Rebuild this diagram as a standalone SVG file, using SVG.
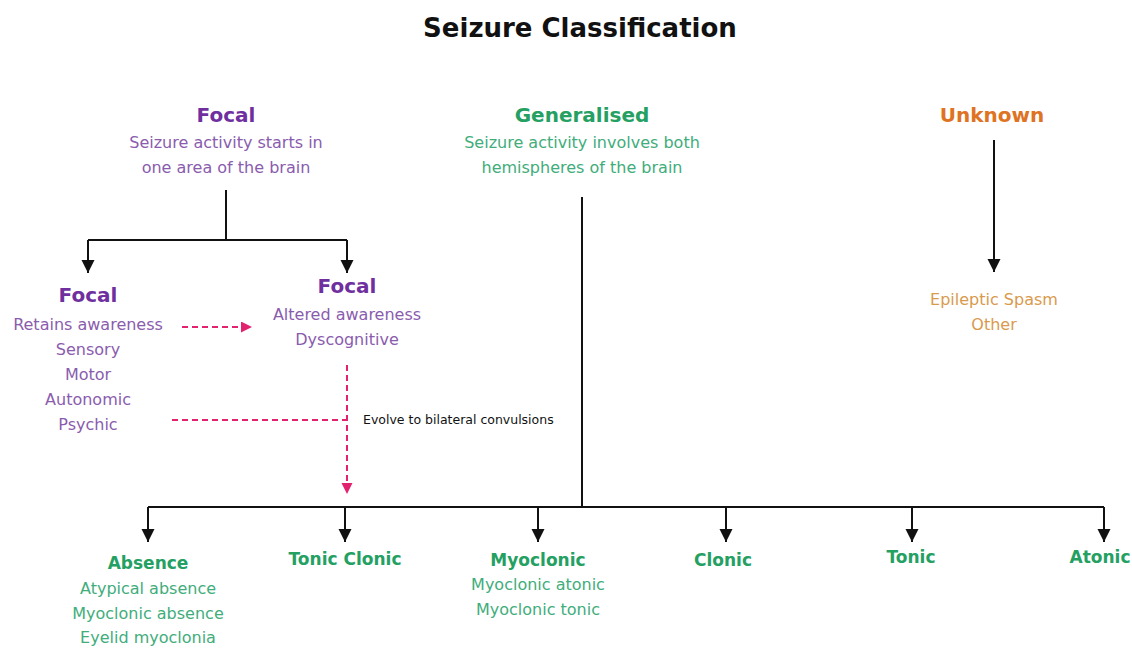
<svg xmlns="http://www.w3.org/2000/svg" width="1132" height="648" viewBox="0 0 1132 648">
<defs>
<marker id="ah" markerUnits="userSpaceOnUse" markerWidth="14" markerHeight="14" refX="13" refY="6.5" orient="auto"><path d="M0,0 L13,6.5 L0,13 z" fill="#111"/></marker>
<marker id="ahp" markerUnits="userSpaceOnUse" markerWidth="12" markerHeight="12" refX="11" refY="5.5" orient="auto"><path d="M0,0 L11,5.5 L0,11 z" fill="#e3226f"/></marker>
</defs>
<style>
text{font-family:"DejaVu Sans","Liberation Sans",sans-serif;text-anchor:middle}
.title{font-size:26px;font-weight:bold;fill:#111}
.h{font-size:20px;font-weight:bold}
.hb{font-size:17px;font-weight:bold}
.s{font-size:16px}
.pp{fill:#6f2f9f}
.pl{fill:#8a5cae}
.gp{fill:#24a062}
.gl{fill:#41ad7b}
.op{fill:#de7323}
.ol{fill:#d99a4e}
.ln{stroke:#111;stroke-width:2;fill:none}
.pk{stroke:#e3226f;stroke-width:2;fill:none;stroke-dasharray:6 4}
.note{font-size:12.5px;fill:#111;text-anchor:start}
</style>
<rect width="1132" height="648" fill="#fff"/>
<text class="title" x="580" y="37">Seizure Classification</text>

<g id="connectors">
<path class="ln" d="M226 190 V240 M88 240 H347"/>
<path class="ln" d="M88 240 V273" marker-end="url(#ah)"/>
<path class="ln" d="M347 240 V273" marker-end="url(#ah)"/>
<path class="ln" d="M994 140 V272" marker-end="url(#ah)"/>
<path class="ln" d="M582 197 V507 M148 507 H1104"/>
<path class="ln" d="M148 507 V542" marker-end="url(#ah)"/>
<path class="ln" d="M345 507 V542" marker-end="url(#ah)"/>
<path class="ln" d="M538 507 V542" marker-end="url(#ah)"/>
<path class="ln" d="M726 507 V542" marker-end="url(#ah)"/>
<path class="ln" d="M912 507 V542" marker-end="url(#ah)"/>
<path class="ln" d="M1104 507 V542" marker-end="url(#ah)"/>
<path class="pk" d="M182 327 H252" marker-end="url(#ahp)"/>
<path class="pk" d="M172 420 H347"/>
<path class="pk" d="M347 365 V494" marker-end="url(#ahp)"/>
<text class="note" x="363" y="424">Evolve to bilateral convulsions</text>
</g>

<g id="focal">
<text class="h pp" x="226" y="122">Focal</text>
<text class="s pl" x="226" y="148">Seizure activity starts in</text>
<text class="s pl" x="226" y="173">one area of the brain</text>
</g>
<g id="focal-aware">
<text class="h pp" x="88" y="302">Focal</text>
<text class="s pl" x="88" y="330">Retains awareness</text>
<text class="s pl" x="88" y="355">Sensory</text>
<text class="s pl" x="88" y="380">Motor</text>
<text class="s pl" x="88" y="405">Autonomic</text>
<text class="s pl" x="88" y="430">Psychic</text>
</g>
<g id="focal-altered">
<text class="h pp" x="347" y="293">Focal</text>
<text class="s pl" x="347" y="320">Altered awareness</text>
<text class="s pl" x="347" y="345">Dyscognitive</text>
</g>
<g id="generalised">
<text class="h gp" x="582" y="122">Generalised</text>
<text class="s gl" x="582" y="148">Seizure activity involves both</text>
<text class="s gl" x="582" y="173">hemispheres of the brain</text>
</g>
<g id="unknown">
<text class="h op" x="992" y="122">Unknown</text>
</g>
<g id="unknown-types">
<text class="s ol" x="994" y="305">Epileptic Spasm</text>
<text class="s ol" x="994" y="330">Other</text>
</g>
<g id="absence">
<text class="hb gp" x="148" y="569">Absence</text>
<text class="s gl" x="148" y="594">Atypical absence</text>
<text class="s gl" x="148" y="619">Myoclonic absence</text>
<text class="s gl" x="148" y="643">Eyelid myoclonia</text>
</g>
<g id="tonic-clonic">
<text class="hb gp" x="345" y="565">Tonic Clonic</text>
</g>
<g id="myoclonic">
<text class="hb gp" x="538" y="566">Myoclonic</text>
<text class="s gl" x="538" y="590">Myoclonic atonic</text>
<text class="s gl" x="538" y="615">Myoclonic tonic</text>
</g>
<g id="clonic">
<text class="hb gp" x="723" y="566">Clonic</text>
</g>
<g id="tonic">
<text class="hb gp" x="911" y="563">Tonic</text>
</g>
<g id="atonic">
<text class="hb gp" x="1100" y="563">Atonic</text>
</g>
</svg>
